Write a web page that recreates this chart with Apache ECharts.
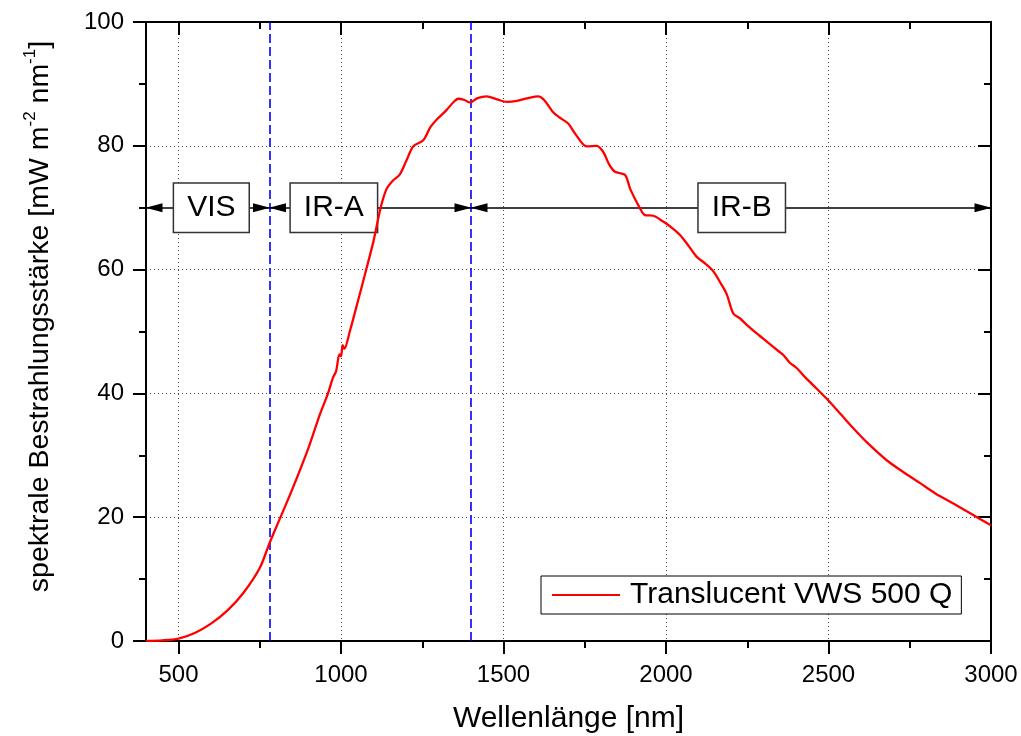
<!DOCTYPE html>
<html>
<head>
<meta charset="utf-8">
<script src="https://cdn.jsdelivr.net/npm/echarts@6/dist/echarts.min.js"></script>
<style>html,body{margin:0;padding:0;background:#fff}#chart{width:1021px;height:736px}</style>
</head>
<body>
<div id="chart"></div>
<script>
// ---- data ----
const wavelength = [400,450,500,550,600,650,700,750,780,800,850,900,935,960,975,985,995,1000,1005,1010,1028,1050,1075,1100,1122,1140,1160,1180,1202,1222,1253,1275,1294,1325,1345,1361,1380,1397,1420,1448,1480,1510,1545,1582,1607,1625,1650,1669,1699,1720,1756,1787,1807,1825,1843,1874,1890,1920,1935,1961,1990,2012,2043,2070,2094,2120,2146,2166,2187,2207,2228,2250,2279,2300,2330,2361,2380,2402,2430,2463,2499,2540,2576,2620,2679,2730,2782,2830,2884,2940,3000];
const irradiance = [0.0,0.1,0.4,1.3,2.8,4.9,7.8,11.8,15.8,18.3,24.5,31.2,36.6,40.0,42.5,43.6,46.3,46.0,47.8,47.2,50.2,54.5,59.5,64.6,70.0,73.0,74.4,75.3,77.7,79.9,80.9,83.0,84.2,85.8,87.0,87.6,87.4,87.0,87.7,88.0,87.5,87.1,87.3,87.8,88.0,87.4,85.6,84.7,83.6,82.0,79.9,80.0,79.0,77.0,75.8,75.3,73.0,69.9,68.8,68.7,67.8,67.0,65.6,63.8,62.1,61.0,59.7,58.0,56.0,52.9,52.1,51.0,49.7,48.8,47.5,46.2,45.0,44.1,42.5,40.8,38.9,36.5,34.4,32.0,29.2,27.3,25.5,23.8,22.2,20.5,18.7];
const seriesName = 'Translucent VWS 500 Q';
const xMajorTicks = [500,1000,1500,2000,2500,3000];
const xMinorTicks = [750,1250,1750,2250,2750];
const regionNames = ['VIS','IR-A','IR-B'];
const regionStart = [400,780,1400];
const regionEnd = [780,1400,3000];
const regionLabelX = [601,978,2233];
const regionLevel = 70;
const boundaryLines = [780,1400];

const FONT = "'Liberation Sans', Arial, sans-serif";
const chart = echarts.init(document.getElementById('chart'), null, {renderer:'canvas'});

const lineData = wavelength.map((w,i)=>[w, irradiance[i]]);
const frameLine = {show:true, lineStyle:{color:'#000', width:2}};
const dotted = {show:true, lineStyle:{color:'#444', width:1, type:[1,3]}};

function xAxisDef(pos, ticks, len, inside, withLabels, withSplit){
  return {
    type:'value', position:pos, min:400, max:3000,
    axisLine: frameLine,
    axisTick:{show:true, inside:inside, length:len, customValues:ticks, lineStyle:{color:'#000', width:2}},
    axisLabel:{show:withLabels, customValues:ticks, margin:22, fontSize:24, color:'#000', fontFamily:FONT,
      formatter: v => String(v)},
    splitLine: withSplit ? dotted : {show:false},
    minorTick:{show:false}
  };
}

const option = {
  animation:false,
  backgroundColor:'#fff',
  textStyle:{fontFamily:FONT},
  grid:{left:146, right:30, top:22, bottom:95, containLabel:false, outerBoundsMode:'none'},
  legend:{
    data:[seriesName], left:541, top:576,
    padding:[4,9,4,11], itemWidth:68, itemHeight:14,
    borderColor:'#000', borderWidth:1, backgroundColor:'#fff',
    textStyle:{fontSize:30, color:'#000', fontFamily:FONT, padding:[0,0,0,5]},
    icon:'path://M0,0 L68,0 L68,2 L0,2 Z'
  },
  xAxis:[
    Object.assign(xAxisDef('bottom', xMajorTicks, 13, false, true, true), {
      name:'Wellenlänge [nm]', nameLocation:'middle', nameGap:63,
      nameTextStyle:{fontSize:30, color:'#000', fontFamily:FONT}
    }),
    xAxisDef('bottom', xMinorTicks, 7, false, false, false),
    xAxisDef('top', xMajorTicks, 13, true, false, false),
    xAxisDef('top', xMinorTicks, 7, true, false, false)
  ],
  yAxis:[
    {
      type:'value', position:'left', min:0, max:100, interval:20,
      axisLine: frameLine,
      axisTick:{show:true, inside:false, length:13, lineStyle:{color:'#000', width:2}},
      minorTick:{show:true, splitNumber:2, length:7, lineStyle:{color:'#000', width:2}},
      axisLabel:{margin:22, fontSize:24, color:'#000', fontFamily:FONT},
      splitLine: dotted,
      name:'{a|spektrale Bestrahlungsstärke [mW m}{s|-2}{a| nm}{s|-1}{a|]}',
      nameLocation:'middle', nameGap:88,
      nameTextStyle:{
        padding:[0,0,0,30],
        rich:{
          a:{fontSize:28.5, lineHeight:36, color:'#000', fontFamily:FONT},
          s:{fontSize:17, lineHeight:18, verticalAlign:'top', color:'#000', fontFamily:FONT}
        }
      }
    },
    {
      type:'value', position:'right', min:0, max:100, interval:20,
      axisLine: frameLine,
      axisTick:{show:true, inside:true, length:13, lineStyle:{color:'#000', width:2}},
      minorTick:{show:true, splitNumber:2, length:7, lineStyle:{color:'#000', width:2}},
      axisLabel:{show:false},
      splitLine:{show:false}
    }
  ],
  series:[
    {
      name:seriesName, type:'line', xAxisIndex:0, yAxisIndex:0,
      data:lineData, showSymbol:false, symbol:'none', smooth:0.3,
      lineStyle:{color:'#ff0000', width:2.3}, itemStyle:{color:'#ff0000'},
      z:5,
      markLine:{
        silent:true, symbol:'none', animation:false,
        label:{show:false},
        lineStyle:{color:'#0000ff', width:1.6, type:[9,4]},
        data: boundaryLines.map(v=>({xAxis:v}))
      }
    },
    {
      name:'regions', type:'line', xAxisIndex:0, yAxisIndex:0, data:[],
      z:3,
      markLine:{
        silent:true, animation:false,
        symbol:['triangle','triangle'], symbolSize:[9,17], symbolOffset:[[0,8],[0,8]],
        label:{show:false},
        lineStyle:{color:'#000', width:1.5, type:'solid'},
        data: regionNames.map((n,i)=>[
          {coord:[regionStart[i], regionLevel]},
          {coord:[regionEnd[i], regionLevel]}
        ])
      },
      markPoint:{
        silent:true, animation:false,
        symbol:'rect', symbolSize:1,
        itemStyle:{color:'rgba(0,0,0,0)'},
        label:{
          show:true, position:'inside', formatter:'{b}',
          fontSize:30, color:'#000', fontFamily:FONT, lineHeight:32,
          backgroundColor:'#fff', borderColor:'#333', borderWidth:1.5,
          padding:[8,13,8,13]
        },
        data: regionNames.map((n,i)=>({name:n, coord:[regionLabelX[i], regionLevel]}))
      }
    }
  ]
};
chart.setOption(option);
</script>
</body>
</html>
